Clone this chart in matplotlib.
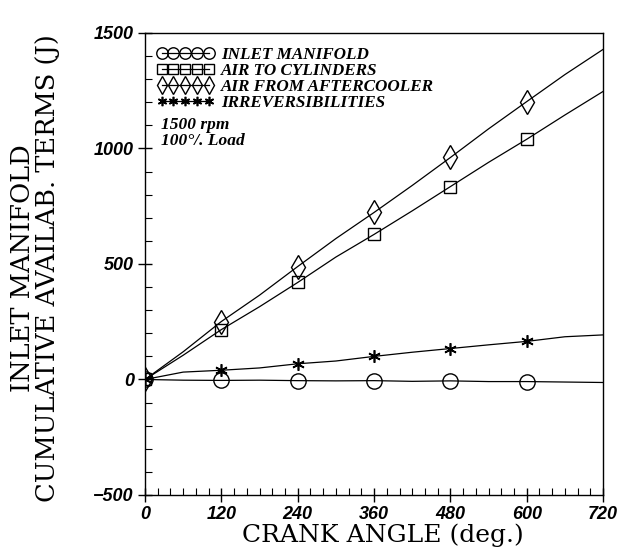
import matplotlib
matplotlib.use('Agg')
import matplotlib.pyplot as plt
from matplotlib.ticker import MultipleLocator
from matplotlib.font_manager import FontProperties

# crank angle (deg) and cumulative availability terms (J)
crank_angle = [0, 60, 120, 180, 240, 300, 360, 420, 480, 540, 600, 660, 720]
inlet_manifold = [0, -3, -4, -3, -5, -6, -5, -8, -6, -9, -9, -11, -13]
air_to_cylinders = [0, 105, 216, 315, 420, 530, 628, 730, 835, 940, 1040, 1145, 1247]
air_from_aftercooler = [0, 120, 251, 365, 489, 610, 723, 840, 961, 1085, 1203, 1320, 1429]
irreversibilities = [0, 32, 40, 50, 68, 80, 100, 118, 134, 150, 165, 185, 193]

series_labels = ['INLET MANIFOLD', 'AIR TO CYLINDERS',
                 'AIR FROM AFTERCOOLER', 'IRREVERSIBILITIES']
x_ticks = [0, 120, 240, 360, 480, 600, 720]
y_ticks = [-500, 0, 500, 1000, 1500]

fig = plt.figure(figsize=(6.25, 5.54), dpi=100)
ax = fig.add_axes([0.232, 0.1065, 0.733, 0.834])

marks = [0, 2, 4, 6, 8, 10]
styles = [
    dict(marker='o', markersize=11),
    dict(marker='s', markersize=9),
    dict(marker='d', markersize=12),
    dict(marker=(6, 2, 0), markersize=9, markeredgewidth=1.2),
]
data = [inlet_manifold, air_to_cylinders, air_from_aftercooler, irreversibilities]
handles = []
for vals, lab, st in zip(data, series_labels, styles):
    h, = ax.plot(crank_angle, vals, color='black', linewidth=0.9,
                 markevery=marks, markerfacecolor='none',
                 markeredgecolor='black', label=lab, **st)
    handles.append(h)

ax.set_xlim(0, 720)
ax.set_ylim(-500, 1500)
ax.set_xticks(x_ticks)
ax.set_yticks(y_ticks)
ax.xaxis.set_minor_locator(MultipleLocator(20))
ax.yaxis.set_minor_locator(MultipleLocator(100))
ax.tick_params(which='major', direction='inout', length=10, width=1,
               right=False, top=False, pad=3)
ax.tick_params(which='minor', direction='in', length=5, width=0.8,
               right=False, top=False)

tick_fp = FontProperties(family='Liberation Sans', weight='bold', style='italic', size=13)
for lbl in ax.get_xticklabels() + ax.get_yticklabels():
    lbl.set_fontproperties(tick_fp)

ax.set_xlabel('CRANK ANGLE (deg.)', family='DejaVu Serif', fontsize=18, labelpad=0)
ax.xaxis.label.set_x(0.52)
ax.set_ylabel('INLET MANIFOLD\nCUMULATIVE AVAILAB. TERMS (J)',
              family='DejaVu Serif', fontsize=18.5, labelpad=24, linespacing=1.0)
ax.yaxis.label.set_y(0.49)

for sp in ax.spines.values():
    sp.set_linewidth(1.0)

leg = ax.legend(handles=handles, loc='upper left', bbox_to_anchor=(0.01, 0.985),
                frameon=False, numpoints=5, handlelength=3.4, handletextpad=0.4,
                labelspacing=0.0, borderaxespad=0.0,
                prop=dict(family='Liberation Serif', weight='bold',
                          style='italic', size=12.3))
for lh in leg.legend_handles:
    lh.set_markersize(lh.get_markersize() * 0.75)

ax.text(0.035, 0.818, '1500 rpm\n100°/. Load', transform=ax.transAxes,
        family='Liberation Serif', weight='bold', style='italic', fontsize=12.5,
        va='top', linespacing=1.0)

fig.savefig('out.png', dpi=100)
